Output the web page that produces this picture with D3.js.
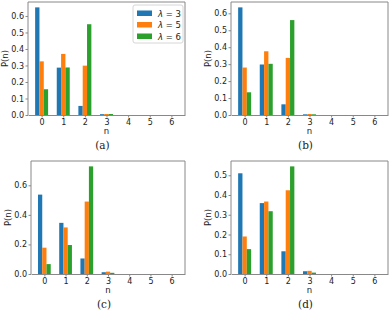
<!DOCTYPE html>
<html>
<head>
<meta charset="utf-8">
<script src="https://cdnjs.cloudflare.com/ajax/libs/d3/7.8.5/d3.min.js"></script>
<style>
  body { margin: 0; background: #fff; }
  svg text { font-family: 'DejaVu Sans', sans-serif; fill: #222; }
  .axis path, .axis line { stroke: #888; }
  .caption { font-family: 'DejaVu Serif', serif !important; }
</style>
</head>
<body>
<div id="chart"></div>
<script>
// Data
const nValues = [0, 1, 2, 3, 4, 5, 6];
const lambdaLabels = ['3', '5', '6'];
const panelLabels = ['(a)', '(b)', '(c)', '(d)'];

// P(n) per panel, one array per lambda
const aLambda3 = [0.652, 0.287, 0.055, 0.005, 0, 0, 0];
const aLambda5 = [0.325, 0.370, 0.299, 0.006, 0, 0, 0];
const aLambda6 = [0.156, 0.288, 0.550, 0.006, 0, 0, 0];

const bLambda3 = [0.635, 0.298, 0.063, 0.004, 0, 0, 0];
const bLambda5 = [0.280, 0.376, 0.337, 0.006, 0, 0, 0];
const bLambda6 = [0.134, 0.302, 0.560, 0.004, 0, 0, 0];

const cLambda3 = [0.537, 0.346, 0.105, 0.012, 0, 0, 0];
const cLambda5 = [0.178, 0.315, 0.490, 0.016, 0, 0, 0];
const cLambda6 = [0.067, 0.196, 0.728, 0.008, 0, 0, 0];

const dLambda3 = [0.510, 0.359, 0.115, 0.014, 0, 0, 0];
const dLambda5 = [0.190, 0.367, 0.424, 0.016, 0, 0, 0];
const dLambda6 = [0.126, 0.318, 0.545, 0.007, 0, 0, 0];

// tick labels
const yTicksA = [0, 0.1, 0.2, 0.3, 0.4, 0.5, 0.6];
const yTicksB = [0, 0.1, 0.2, 0.3, 0.4, 0.5, 0.6];
const yTicksC = [0, 0.2, 0.4, 0.6];
const yTicksD = [0, 0.1, 0.2, 0.3, 0.4, 0.5];

const panels = [
  { label: panelLabels[0], series: [aLambda3, aLambda5, aLambda6], ticks: yTicksA, legend: true },
  { label: panelLabels[1], series: [bLambda3, bLambda5, bLambda6], ticks: yTicksB },
  { label: panelLabels[2], series: [cLambda3, cLambda5, cLambda6], ticks: yTicksC },
  { label: panelLabels[3], series: [dLambda3, dLambda5, dLambda6], ticks: yTicksD }
];

// layout of each axes box (pixels)
const boxes = [
  { left: 28, right: 185, top: 2, bottom: 115 },
  { left: 231, right: 388, top: 2, bottom: 115 },
  { left: 31, right: 185, top: 161, bottom: 274 },
  { left: 231, right: 388, top: 161, bottom: 274 }
];

const colors = ['#1f77b4', '#ff7f0e', '#2ca02c'];
const barW = 0.2;
const offsets = [-0.2, 0, 0.2];

const svg = d3.select('#chart').append('svg')
  .attr('width', 390)
  .attr('height', 316);

panels.forEach(function(p, i) {
  const b = boxes[i];
  const ymax = d3.max(p.series.flat()) * 1.05;

  const xScale = d3.scaleLinear()
    .domain([-0.63, 6.63])
    .range([b.left, b.right]);

  const yScale = d3.scaleLinear()
    .domain([0, ymax])
    .range([b.bottom, b.top]);

  const g = svg.append('g');

  // bars
  p.series.forEach(function(vals, s) {
    g.selectAll('.bar' + s)
      .data(vals.map(function(v, k) { return { n: nValues[k], v: v }; }))
      .enter()
      .append('rect')
        .attr('x', function(d) { return xScale(d.n + offsets[s] - barW / 2); })
        .attr('width', function(d) { return xScale(barW) - xScale(0); })
        .attr('y', function(d) { return yScale(d.v); })
        .attr('height', function(d) { return yScale(0) - yScale(d.v); })
        .style('fill', colors[s]);
  });

  // x-axis
  const xAxis = g.append('g')
    .attr('class', 'axis')
    .attr('transform', `translate(0, ${ b.bottom })`)
    .call(d3.axisBottom(xScale).tickValues(nValues).tickFormat(d3.format('d'))
      .tickSizeInner(2.5).tickSizeOuter(0).tickPadding(1.5));
  xAxis.selectAll('text').style('font-size', '8px');

  // y-axis
  const yAxis = g.append('g')
    .attr('class', 'axis')
    .attr('transform', `translate(${ b.left }, 0)`)
    .call(d3.axisLeft(yScale).tickValues(p.ticks).tickFormat(d3.format('.1f'))
      .tickSizeInner(2.5).tickSizeOuter(0).tickPadding(1.5));
  yAxis.selectAll('text').style('font-size', '8px');

  // top and right spines
  g.append('path')
    .attr('d', `M${ b.left },${ b.top }H${ b.right }V${ b.bottom }`)
    .attr('fill', 'none')
    .attr('stroke', '#888');
  yAxis.select('.domain').attr('d', `M0,${ b.bottom }V${ b.top }`);

  // axis labels
  g.append('text')
    .attr('x', (b.left + b.right) / 2)
    .attr('y', b.bottom + 19)
    .style('text-anchor', 'middle')
    .style('font-size', '8.5px')
    .text('n');

  g.append('text')
    .attr('transform', `translate(${ b.left - 20 }, ${ (b.top + b.bottom) / 2 }) rotate(-90)`)
    .style('text-anchor', 'middle')
    .style('font-size', '8.5px')
    .text('P(n)');

  // caption
  g.append('text')
    .attr('class', 'caption')
    .attr('x', (b.left + b.right) / 2 - 4)
    .attr('y', b.bottom + 34)
    .style('text-anchor', 'middle')
    .style('font-size', '10.5px')
    .text(p.label);

  // legend
  if (p.legend) {
    const lg = g.append('g')
      .attr('transform', `translate(${ b.right - 52 }, ${ b.top + 3 })`);
    lg.append('rect')
      .attr('width', 50)
      .attr('height', 38)
      .attr('rx', 2)
      .style('fill', '#fff')
      .style('fill-opacity', 0.8)
      .style('stroke', '#ccc')
      .style('stroke-width', 0.8);

    const item = lg.selectAll('.legend')
      .data(lambdaLabels)
      .enter()
      .append('g')
      .attr('class', 'legend')
      .attr('transform', function(d, k) { return `translate(4, ${ 4 + k * 11.5 })`; });

    item.append('rect')
      .attr('width', 15)
      .attr('height', 5.5)
      .attr('y', 1.5)
      .style('fill', function(d, k) { return colors[k]; });

    const t = item.append('text')
      .attr('x', 21)
      .attr('y', 7.5)
      .style('font-size', '8.5px');
    t.append('tspan').style('font-style', 'italic').text('λ');
    t.append('tspan').text(function(d) { return ' = ' + d; });
  }
});
</script>
</body>
</html>
